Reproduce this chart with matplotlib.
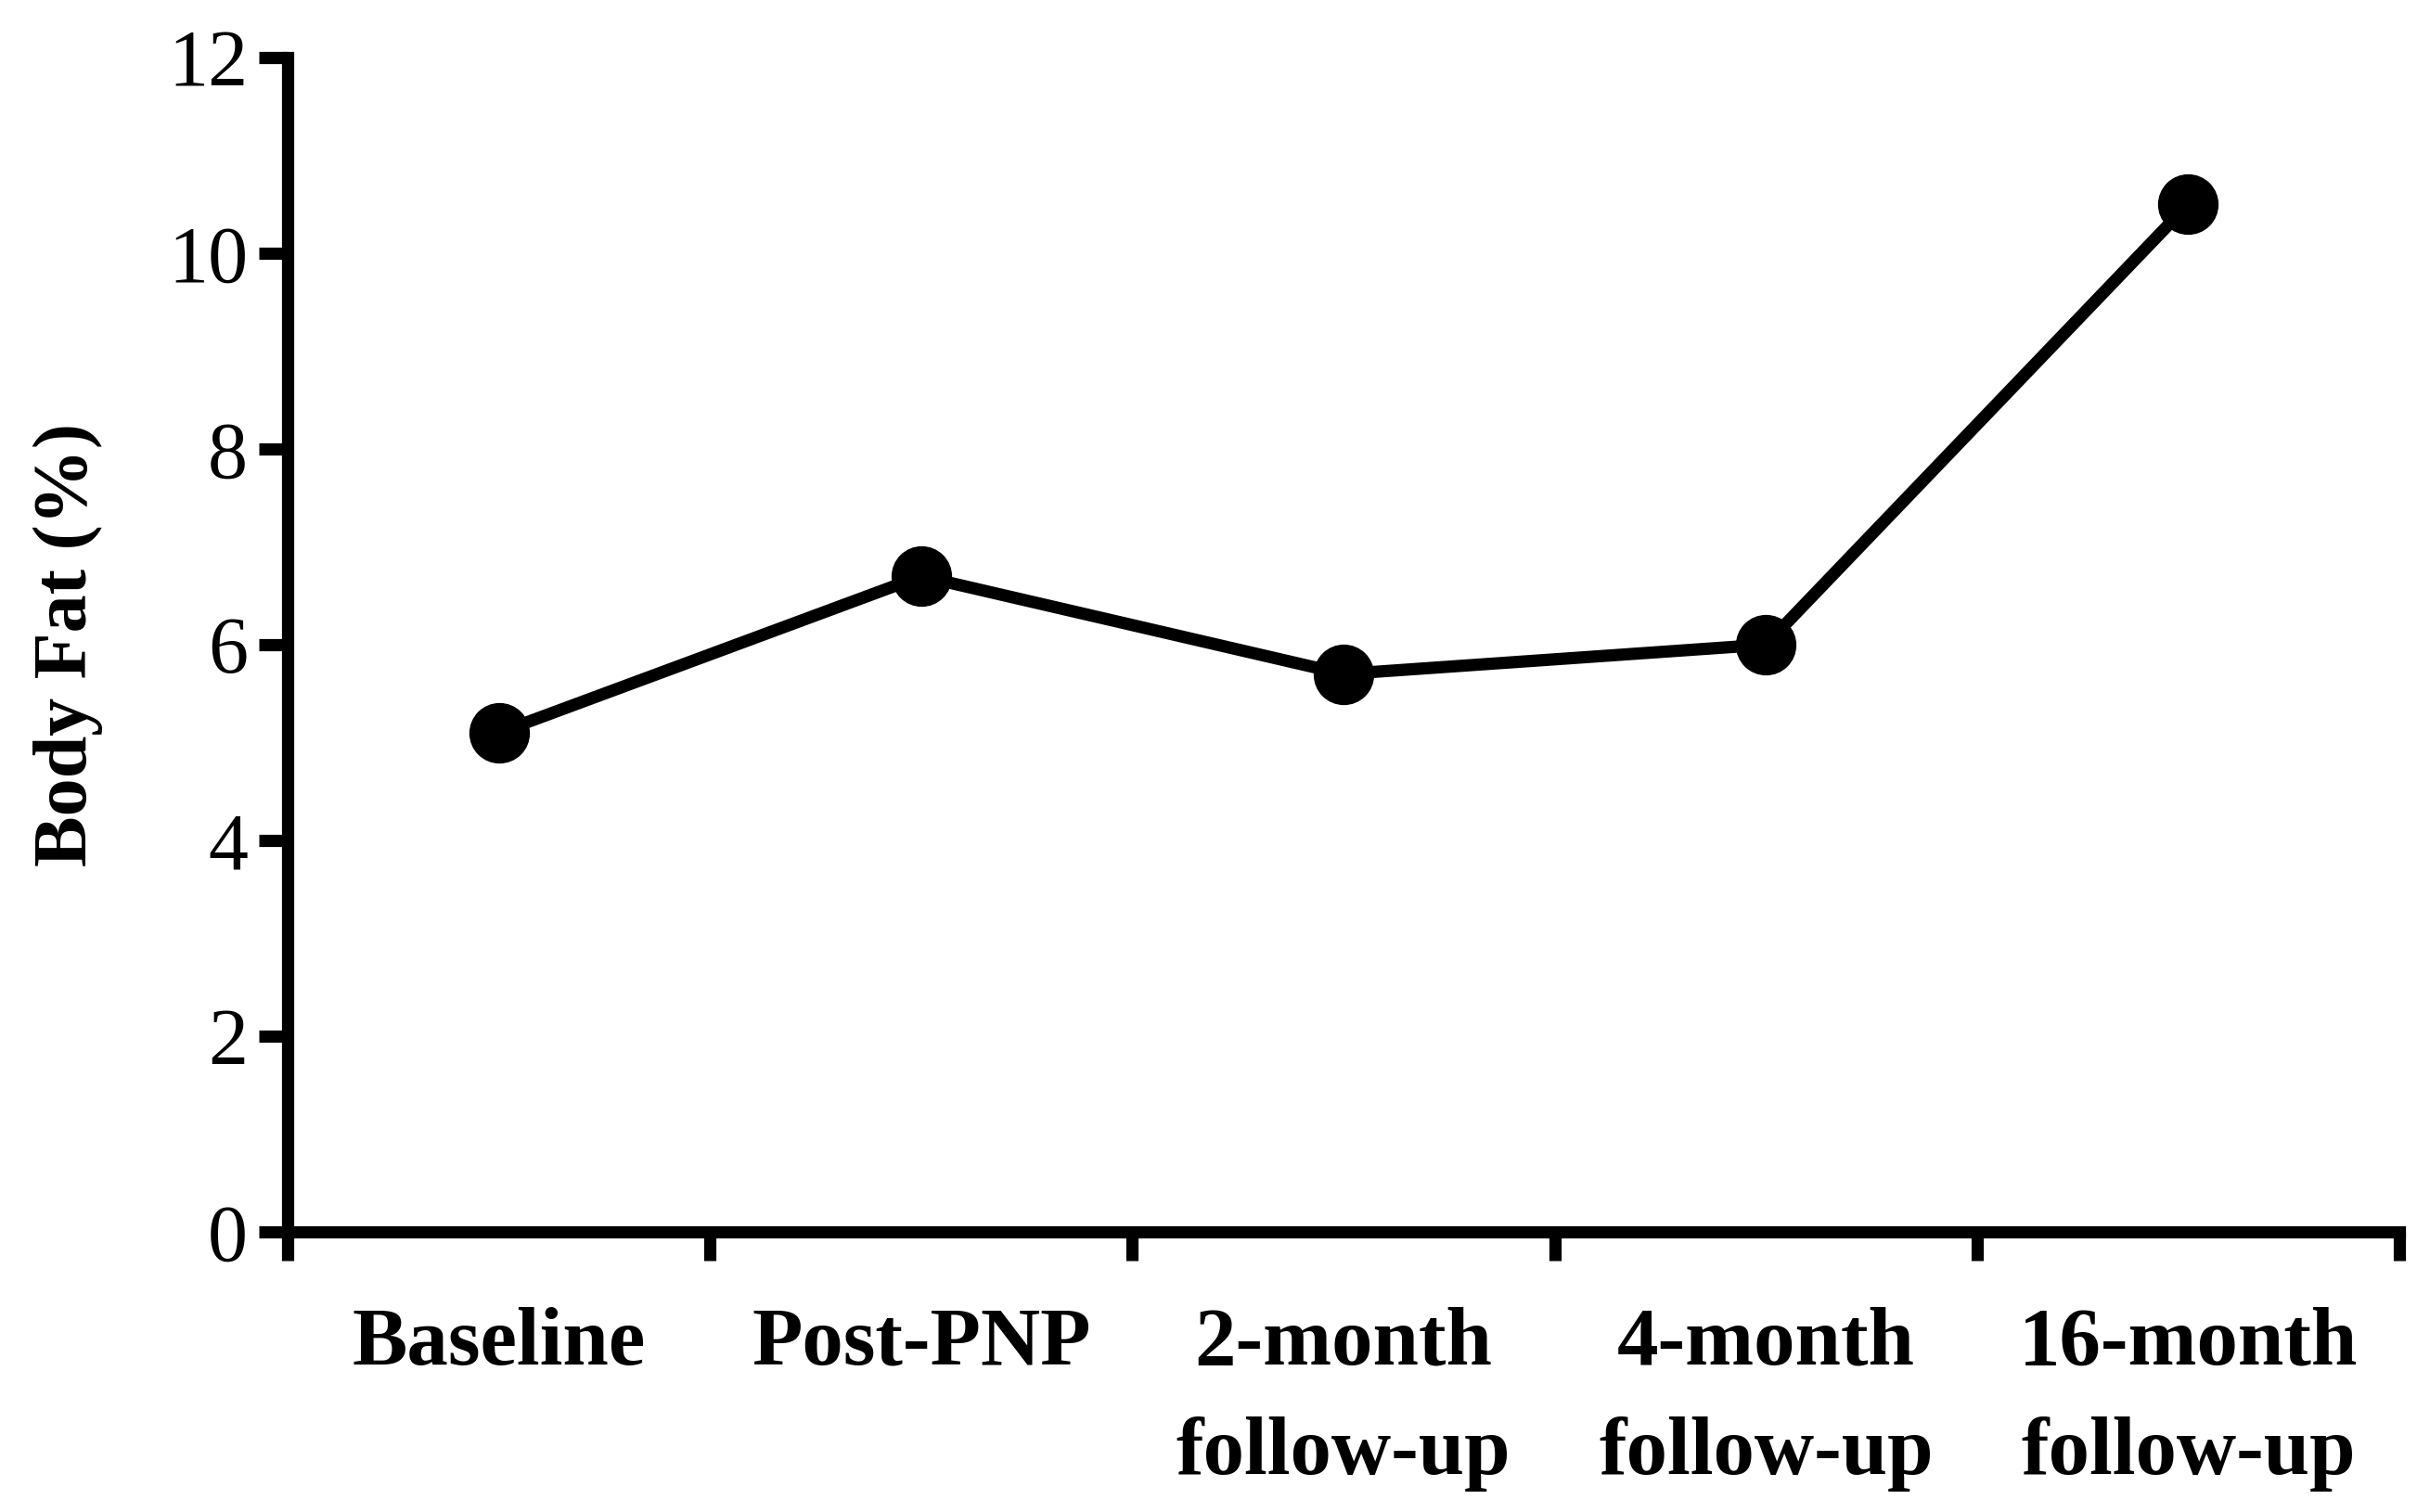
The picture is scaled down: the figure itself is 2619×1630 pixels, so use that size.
import matplotlib
matplotlib.use("Agg")
import matplotlib.pyplot as plt
import numpy as np

# data
categories = ["Baseline", "Post-PNP", "2-month\nfollow-up", "4-month\nfollow-up", "16-month\nfollow-up"]
body_fat = [5.1, 6.7, 5.7, 6.0, 10.5]
y_ticks = [0, 2, 4, 6, 8, 10, 12]

plt.rcParams['font.family'] = ['Liberation Serif', 'DejaVu Serif']

fig = plt.figure(figsize=(26.19, 16.30), dpi=100)
ax = fig.add_axes([0.1184, 0.1853, 0.869, 0.7767])

x = np.arange(len(categories)) + 0.5
ax.plot(x, body_fat, 'k-', linewidth=9.5, marker='o', markersize=46,
        markerfacecolor='black', markeredgecolor='black', clip_on=False, zorder=3)

ax.set_xlim(0, len(categories))
ax.set_ylim(0, 12)
ax.set_yticks(y_ticks)
ax.set_yticklabels([str(v) for v in y_ticks], fontsize=62)

# boundary ticks (major) and category labels (minor)
ax.set_xticks(np.arange(len(categories) + 1))
ax.set_xticklabels([''] * (len(categories) + 1))
ax.set_xticks(x, minor=True)
ax.set_xticklabels(categories, minor=True, fontsize=64, fontweight='bold',
                   linespacing=1.6)
ax.tick_params(axis='x', which='minor', length=0, pad=58)
ax.tick_params(axis='both', which='major', direction='out', length=22, width=9.5)
ax.tick_params(axis='y', which='major', pad=9)

ax.set_ylabel('Body Fat (%)', fontsize=59, fontweight='bold', labelpad=50)

ax.spines['right'].set_visible(False)
ax.spines['top'].set_visible(False)
ax.spines['left'].set_linewidth(9.5)
ax.spines['bottom'].set_linewidth(9.5)
ax.spines['left'].set_capstyle('projecting')
ax.spines['bottom'].set_capstyle('projecting')

plt.savefig('out.png', dpi=100)
